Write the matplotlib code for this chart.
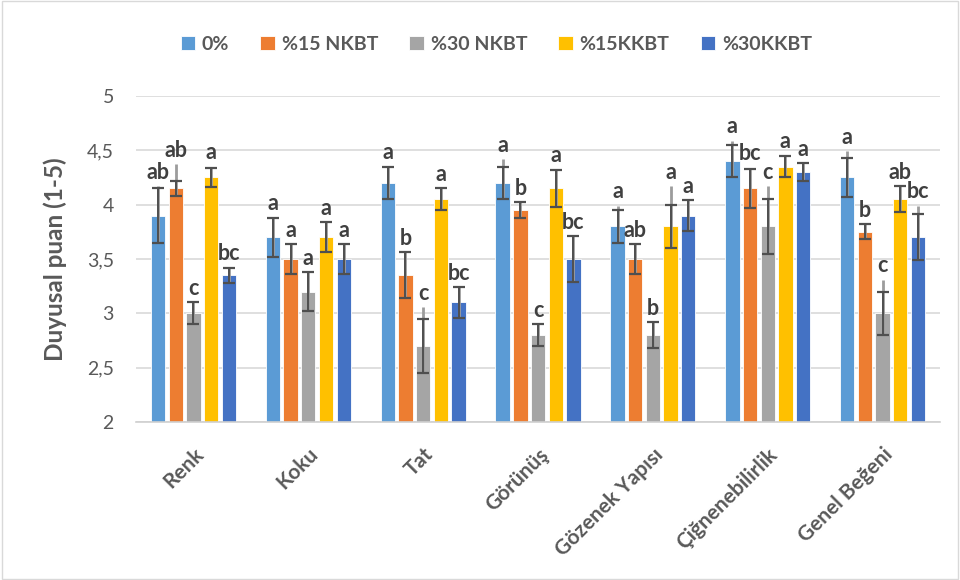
import matplotlib
matplotlib.use("Agg")
import matplotlib.pyplot as plt
import numpy as np

plt.rcParams['font.family'] = ['Lato', 'DejaVu Sans']

categories = ["Renk", "Koku", "Tat", "Görünüş", "Gözenek Yapısı", "Çiğnenebilirlik", "Genel Beğeni"]
series = ["0%", "%15 NKBT", "%30 NKBT", "%15KKBT", "%30KKBT"]
colors = ["#5B9BD5", "#ED7D31", "#A5A5A5", "#FFC000", "#4472C4"]

# mean scores per series, one value per category
v_0 = [3.90, 3.70, 4.20, 4.20, 3.80, 4.40, 4.25]
v_15n = [4.15, 3.50, 3.35, 3.95, 3.50, 4.15, 3.75]
v_30n = [3.00, 3.20, 2.70, 2.80, 2.80, 3.80, 3.00]
v_15k = [4.25, 3.70, 4.05, 4.15, 3.80, 4.35, 4.05]
v_30k = [3.35, 3.50, 3.10, 3.50, 3.90, 4.30, 3.70]

# error (+/-)
e_0 = [0.25, 0.18, 0.15, 0.15, 0.15, 0.15, 0.18]
e_15n = [0.07, 0.14, 0.21, 0.07, 0.14, 0.18, 0.07]
e_30n = [0.10, 0.18, 0.25, 0.10, 0.12, 0.25, 0.20]
e_15k = [0.09, 0.14, 0.10, 0.17, 0.20, 0.10, 0.12]
e_30k = [0.07, 0.14, 0.14, 0.21, 0.14, 0.08, 0.21]

# top of the second (light grey) whisker layer
t_0 = [4.17, 3.88, 4.35, 4.42, 3.99, 4.59, 4.49]
t_15n = [4.37, 3.64, 3.56, 4.02, 3.64, 4.34, 3.82]
t_30n = [3.10, 3.38, 3.06, 2.90, 2.92, 4.17, 3.31]
t_15k = [4.35, 3.84, 4.15, 4.33, 4.17, 4.45, 4.17]
t_30k = [3.42, 3.64, 3.24, 3.71, 4.04, 4.38, 3.99]

# significance letters
l_0 = ["ab", "a", "a", "a", "a", "a", "a"]
l_15n = ["ab", "a", "b", "b", "ab", "bc", "b"]
l_30n = ["c", "a", "c", "c", "b", "c", "c"]
l_15k = ["a", "a", "a", "a", "a", "a", "ab"]
l_30k = ["bc", "a", "bc", "bc", "a", "a", "bc"]

values = [v_0, v_15n, v_30n, v_15k, v_30k]
errors = [e_0, e_15n, e_30n, e_15k, e_30k]
tops = [t_0, t_15n, t_30n, t_15k, t_30k]
letters = [l_0, l_15n, l_30n, l_15k, l_30k]

fig = plt.figure(figsize=(9.6, 5.8), dpi=100)
ax = fig.add_axes([0.1417, 0.2724, 0.8375, 0.5621])

x = np.arange(len(categories))
step = 0.154
width = 0.125
txt = "#404040"
grey = "#595959"

for i, (name, col) in enumerate(zip(series, colors)):
    pos = x + (i - 2) * step
    v = np.array(values[i])
    e = np.array(errors[i])
    ax.bar(pos, v, width, color=col, edgecolor="white",
           linewidth=0.6, label=name, zorder=2)
    ax.vlines(pos, v - e, tops[i], color="#9C9C9C", linewidth=2, zorder=3)
    ax.errorbar(pos, v, yerr=e, fmt="none", ecolor="#4F4F4F",
                elinewidth=1.4, capsize=4.5, capthick=1.6, zorder=4)
    for p, top, lab in zip(pos, np.maximum(v + e, tops[i]), letters[i]):
        ax.text(p, top + 0.03, lab, ha="center", va="bottom", fontsize=15.5,
                fontweight="bold", color=txt, zorder=5)

ax.set_ylim(2, 5)
ax.set_xlim(-0.5, len(categories) - 0.5)
yt = np.arange(2, 5.01, 0.5)
ax.set_yticks(yt)
ax.set_yticklabels([f"{t:g}".replace(".", ",") for t in yt])
ax.yaxis.grid(True, color="#D9D9D9", linewidth=1.2, zorder=0)
ax.set_axisbelow(True)
for s in ["top", "right", "left"]:
    ax.spines[s].set_visible(False)
ax.spines["bottom"].set_color("#D0D0D0")
ax.spines["bottom"].set_linewidth(1.2)
ax.tick_params(axis="both", length=0, colors=grey, labelsize=14)
ax.tick_params(axis="y", pad=16)
ax.tick_params(axis="x", pad=16)
ax.set_xticks(x)
ax.set_xticklabels(categories, rotation=45, ha="right", rotation_mode="anchor",
                   fontweight="bold", fontsize=15, color=grey)
ax.set_ylabel("Duyusal puan (1-5)", fontsize=17.5, fontweight="bold", color=grey, labelpad=14)

leg = fig.legend(loc="center", bbox_to_anchor=(0.517, 0.924), ncol=5, frameon=False,
                 handlelength=0.75, handleheight=0.75, handletextpad=0.35, columnspacing=1.6,
                 prop={"weight": "bold", "size": 14})
for t in leg.get_texts():
    t.set_color(grey)

fig.patches.append(plt.Rectangle((0.002, 0.002), 0.996, 0.996, transform=fig.transFigure,
                                 fill=False, edgecolor="#D9D9D9", linewidth=1))

fig.savefig("out.png", dpi=100)
